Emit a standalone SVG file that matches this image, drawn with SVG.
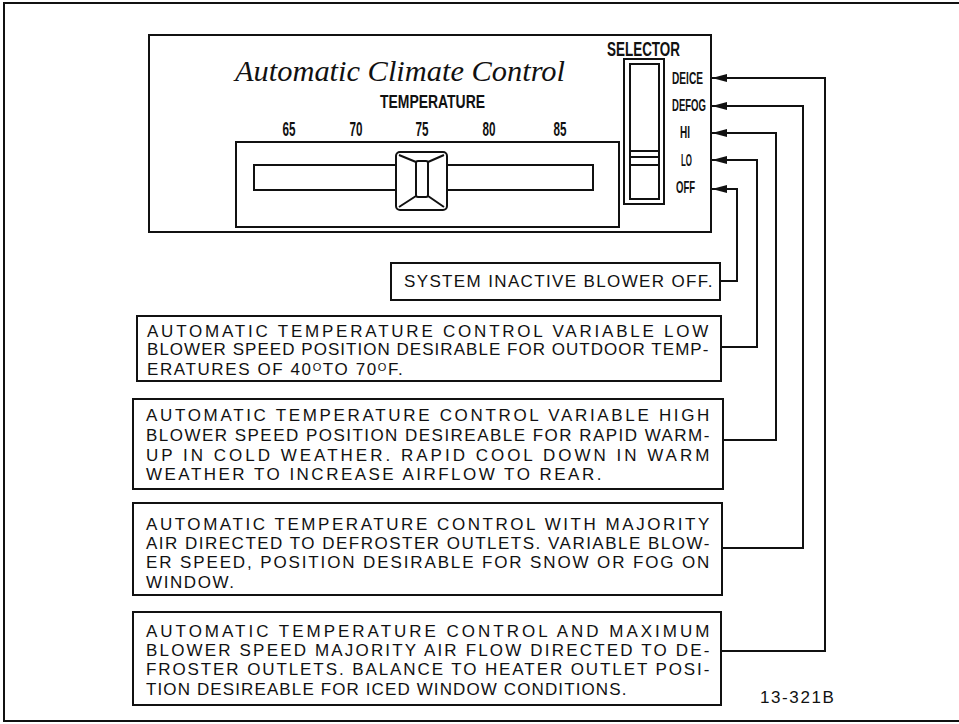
<svg xmlns="http://www.w3.org/2000/svg" width="959" height="724" viewBox="0 0 959 724">
<defs>
<style>
.ln{fill:none;stroke:#111;stroke-width:2}
.bx{fill:#fff;stroke:#111;stroke-width:2}
.t{font-family:"Liberation Sans",Arial,sans-serif;font-size:17px;fill:#111;letter-spacing:1.6px}
.c{font-family:"Liberation Sans",Arial,sans-serif;font-weight:bold;fill:#111}
.s{font-family:"Liberation Serif","Times New Roman",serif;font-style:italic;fill:#111}
</style>
<marker id="ah" markerWidth="16" markerHeight="10" refX="15" refY="5" orient="auto" markerUnits="userSpaceOnUse">
<path d="M0,1 L15,5 L0,9 Z" fill="#111"/>
</marker>
</defs>
<rect width="959" height="724" fill="#fff"/>
<path d="M959,3 H4 V721 H959" class="ln"/>

<g id="panel">
<rect x="149" y="35" width="562" height="197" class="bx" stroke-width="2.5"/>
<text x="235" y="81" class="s" font-size="30" textLength="330" lengthAdjust="spacingAndGlyphs">Automatic Climate Control</text>
<text x="380" y="108" class="c" font-size="19" textLength="105" lengthAdjust="spacingAndGlyphs">TEMPERATURE</text>
<g class="c" font-size="20" text-anchor="middle">
<text x="289" y="136" textLength="13" lengthAdjust="spacingAndGlyphs">65</text>
<text x="356" y="136" textLength="13" lengthAdjust="spacingAndGlyphs">70</text>
<text x="422" y="136" textLength="13" lengthAdjust="spacingAndGlyphs">75</text>
<text x="489" y="136" textLength="13" lengthAdjust="spacingAndGlyphs">80</text>
<text x="560" y="136" textLength="13" lengthAdjust="spacingAndGlyphs">85</text>
</g>
<rect x="236" y="142" width="383" height="85" class="bx"/>
<rect x="254" y="165" width="339" height="25" class="bx"/>
<rect x="396" y="152" width="51" height="58" rx="4" class="bx" stroke-width="2.5"/>
<rect x="416" y="161" width="12" height="36" rx="2" class="bx"/>
<path d="M399,155 L416,162 M444,155 L428,162 M399,207 L416,196 M444,207 L428,196" class="ln" stroke-width="1.3"/>
</g>

<g id="selector">
<text x="607" y="56" class="c" font-size="20" textLength="73" lengthAdjust="spacingAndGlyphs">SELECTOR</text>
<rect x="624" y="59" width="40" height="145" class="bx" stroke-width="2.5"/>
<rect x="630" y="64" width="29" height="135" class="bx" stroke-width="2"/>
<path d="M630,151 H659 M630,157 H659 M630,165 H659" class="ln" stroke-width="1.8"/>
<g class="c" font-size="16.5">
<text x="672" y="84" textLength="31" lengthAdjust="spacingAndGlyphs">DEICE</text>
<text x="672" y="111" textLength="34" lengthAdjust="spacingAndGlyphs">DEFOG</text>
<text x="680" y="138" textLength="10" lengthAdjust="spacingAndGlyphs">HI</text>
<text x="681" y="166" textLength="11" lengthAdjust="spacingAndGlyphs">LO</text>
<text x="676" y="193" textLength="19" lengthAdjust="spacingAndGlyphs">OFF</text>
</g>
</g>

<g id="connectors" class="ln">
<path d="M720,281 H737 V189 H712" marker-end="url(#ah)"/>
<path d="M721,347 H757 V160 H712" marker-end="url(#ah)"/>
<path d="M723,440 H776 V133 H712" marker-end="url(#ah)"/>
<path d="M722,548 H803 V106 H712" marker-end="url(#ah)"/>
<path d="M721,651 H825 V78 H712" marker-end="url(#ah)"/>
</g>

<g id="box-off">
<rect x="391" y="263" width="329" height="37" class="bx"/>
<text x="404" y="287" class="t" textLength="310" lengthAdjust="spacing">SYSTEM INACTIVE BLOWER OFF.</text>
</g>

<g id="box-lo">
<rect x="137" y="316" width="584" height="65" class="bx"/>
<text x="147" y="337" class="t" textLength="563" lengthAdjust="spacing">AUTOMATIC   TEMPERATURE   CONTROL  VARIABLE  LOW</text>
<text x="147" y="355" class="t" textLength="563" lengthAdjust="spacing">BLOWER SPEED POSITION DESIRABLE FOR OUTDOOR TEMP-</text>
<text x="147" y="375" class="t" letter-spacing="1">ERATURES OF 40<tspan baseline-shift="4" font-size="11">O</tspan>TO 70<tspan baseline-shift="4" font-size="11">O</tspan>F.</text>
</g>

<g id="box-hi">
<rect x="133" y="399" width="590" height="90" class="bx"/>
<text x="146" y="421" class="t" textLength="565" lengthAdjust="spacing">AUTOMATIC TEMPERATURE CONTROL VARIABLE HIGH</text>
<text x="146" y="441" class="t" textLength="565" lengthAdjust="spacing">BLOWER SPEED POSITION DESIREABLE FOR RAPID WARM-</text>
<text x="146" y="461" class="t" textLength="565" lengthAdjust="spacing">UP IN COLD WEATHER. RAPID COOL DOWN IN WARM</text>
<text x="146" y="480" class="t" textLength="457" lengthAdjust="spacing">WEATHER TO INCREASE AIRFLOW TO REAR.</text>
</g>

<g id="box-defog">
<rect x="133" y="503" width="589" height="92" class="bx"/>
<text x="146" y="530" class="t" textLength="565" lengthAdjust="spacing">AUTOMATIC TEMPERATURE CONTROL WITH MAJORITY</text>
<text x="146" y="549" class="t" textLength="565" lengthAdjust="spacing">AIR DIRECTED TO DEFROSTER OUTLETS. VARIABLE BLOW-</text>
<text x="146" y="568" class="t" textLength="565" lengthAdjust="spacing">ER SPEED, POSITION DESIRABLE FOR SNOW OR FOG ON</text>
<text x="146" y="588" class="t">WINDOW.</text>
</g>

<g id="box-deice">
<rect x="133" y="612" width="588" height="93" class="bx"/>
<text x="146" y="637" class="t" textLength="565" lengthAdjust="spacing">AUTOMATIC TEMPERATURE  CONTROL AND MAXIMUM</text>
<text x="146" y="656" class="t" textLength="565" lengthAdjust="spacing">BLOWER SPEED MAJORITY AIR FLOW DIRECTED TO DE-</text>
<text x="146" y="675" class="t" textLength="565" lengthAdjust="spacing">FROSTER OUTLETS. BALANCE TO HEATER OUTLET POSI-</text>
<text x="146" y="695" class="t" textLength="482" lengthAdjust="spacing">TION DESIREABLE FOR ICED WINDOW CONDITIONS.</text>
</g>

<text x="760" y="703" class="t" font-size="16" letter-spacing="0">13-321B</text>
</svg>
